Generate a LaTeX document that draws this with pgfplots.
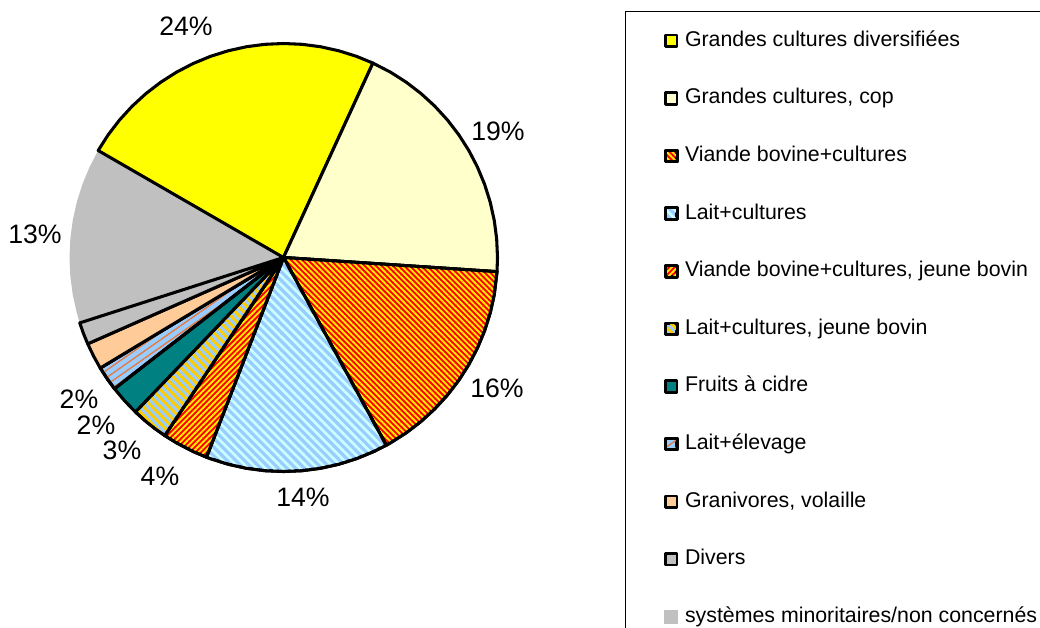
\documentclass[border=0pt]{standalone}
\usepackage{pgfplots}
\pgfplotsset{compat=1.18}
\usepgfplotslibrary{polar}
\usetikzlibrary{patterns.meta}
\usepackage{fontspec}
\setmainfont{Liberation Sans}
\definecolor{cYellow}{HTML}{FFFF00}
\definecolor{cCream}{HTML}{FFFFCC}
\definecolor{cRed}{HTML}{FF0000}
\definecolor{cStripeY}{HTML}{FFEE00}
\definecolor{cBlue}{HTML}{99CCFF}
\definecolor{cBlueL}{HTML}{CCFFFF}
\definecolor{cGold}{HTML}{FFCC00}
\definecolor{cTeal}{HTML}{008080}
\definecolor{cOrange}{HTML}{E8783C}
\definecolor{cPeach}{HTML}{FFCC99}
\definecolor{cGray}{HTML}{C0C0C0}
\tikzset{pieslice/.style={draw=black, line width=2.3pt, line join=round}}
\begin{document}
\begin{tikzpicture}[x=0.75pt,y=-0.75pt]
\path[use as bounding box] (0,0) rectangle (1040,628);
\clip (0,0) rectangle (1040,628);
\begin{polaraxis}[
  at={(212.625pt,-193.125pt)}, anchor=center,
  scale only axis, width=321pt, height=321pt,
  xmin=0, xmax=360, ymin=0, ymax=1,
  hide axis, clip=false,
  legend cell align=left,
  legend image code/.code={\draw[#1, line width=2pt] (0pt,-4.3pt) rectangle (8.6pt,4.3pt);},
  legend style={at={(1.2979,1.0759)}, anchor=north west, draw=black, line width=0.8pt,
    fill=white, inner xsep=29pt, inner ysep=14.5pt, row sep=28.2pt,
    font=\fontsize{16}{19}\selectfont,
    nodes={inner sep=0pt, text height=11.5pt, text depth=3.5pt},
    /tikz/every odd column/.append style={column sep=5pt}},
]
% systemes minoritaires (no border)
\addplot[fill=cGray, draw=none, forget plot] coordinates {(0,0) (-162.2,1) (-165,1) (-170,1) (-175,1) (-180,1) (-185,1) (-190,1) (-195,1) (-200,1) (-205,1) (-210,1)} -- cycle;
% Grandes cultures diversifiees 24%
\addplot[pieslice, fill=cYellow] coordinates {(0,0) (150,1) (145,1) (140,1) (135,1) (130,1) (125,1) (120,1) (115,1) (110,1) (105,1) (100,1) (95,1) (90,1) (85,1) (80,1) (75,1) (70,1) (65.3,1)} -- cycle;
% Grandes cultures, cop 19%
\addplot[pieslice, fill=cCream] coordinates {(0,0) (65.3,1) (60,1) (55,1) (50,1) (45,1) (40,1) (35,1) (30,1) (25,1) (20,1) (15,1) (10,1) (5,1) (0,1) (-3.8,1)} -- cycle;
% Viande bovine+cultures 16%
\addplot[pieslice, preaction={fill=cRed}, pattern={Lines[angle=-45, distance=3pt, line width=1.4pt]}, pattern color=cStripeY] coordinates {(0,0) (-3.8,1) (-10,1) (-15,1) (-20,1) (-25,1) (-30,1) (-35,1) (-40,1) (-45,1) (-50,1) (-55,1) (-60,1) (-61.3,1)} -- cycle;
% Lait+cultures 14%
\addplot[pieslice, preaction={fill=cBlue}, pattern={Lines[angle=-45, distance=4.6pt, line width=2pt]}, pattern color=cBlueL] coordinates {(0,0) (-61.3,1) (-65,1) (-70,1) (-75,1) (-80,1) (-85,1) (-90,1) (-95,1) (-100,1) (-105,1) (-110,1) (-111.1,1)} -- cycle;
% Viande bovine+cultures, jeune bovin 4%
\addplot[pieslice, preaction={fill=cRed}, pattern={Lines[angle=45, distance=3pt, line width=1.4pt]}, pattern color=cStripeY] coordinates {(0,0) (-111.1,1) (-115,1) (-120,1) (-123.7,1)} -- cycle;
% Lait+cultures, jeune bovin 3%
\addplot[pieslice, preaction={fill=cBlue}, pattern={Lines[angle=-45, distance=4.5pt, line width=2.2pt]}, pattern color=cGold] coordinates {(0,0) (-123.7,1) (-127,1) (-130,1) (-133.8,1)} -- cycle;
% Fruits a cidre 2%
\addplot[pieslice, fill=cTeal] coordinates {(0,0) (-133.8,1) (-138,1) (-142.2,1)} -- cycle;
% Lait+elevage 2%
\addplot[pieslice, preaction={fill=cBlue}, pattern={Lines[angle=35, distance=4.5pt, line width=1pt]}, pattern color=cOrange] coordinates {(0,0) (-142.2,1) (-145.5,1) (-148.9,1)} -- cycle;
% Granivores, volaille 2%
\addplot[pieslice, fill=cPeach] coordinates {(0,0) (-148.9,1) (-152.5,1) (-156.2,1)} -- cycle;
% Divers 2%
\addplot[pieslice, fill=cGray] coordinates {(0,0) (-156.2,1) (-159.2,1) (-162.2,1)} -- cycle;
\addlegendimage{fill=cGray, draw=cGray}
\legend{Grandes cultures diversifiées, {Grandes cultures, cop}, Viande bovine+cultures, Lait+cultures, {Viande bovine+cultures, jeune bovin}, {Lait+cultures, jeune bovin}, Fruits à cidre, Lait+élevage, {Granivores, volaille}, Divers, systèmes minoritaires/non concernés}
\end{polaraxis}
\begin{scope}[every node/.style={font=\fontsize{20}{23}\selectfont, inner sep=0pt}]
\node at (186,26) {24\%};
\node at (498,131) {19\%};
\node at (497,388) {16\%};
\node at (303,497) {14\%};
\node at (35,234) {13\%};
\node at (160,476) {4\%};
\node at (122,450) {3\%};
\node at (96,425) {2\%};
\node at (79,399) {2\%};
\end{scope}
\end{tikzpicture}
\end{document}
